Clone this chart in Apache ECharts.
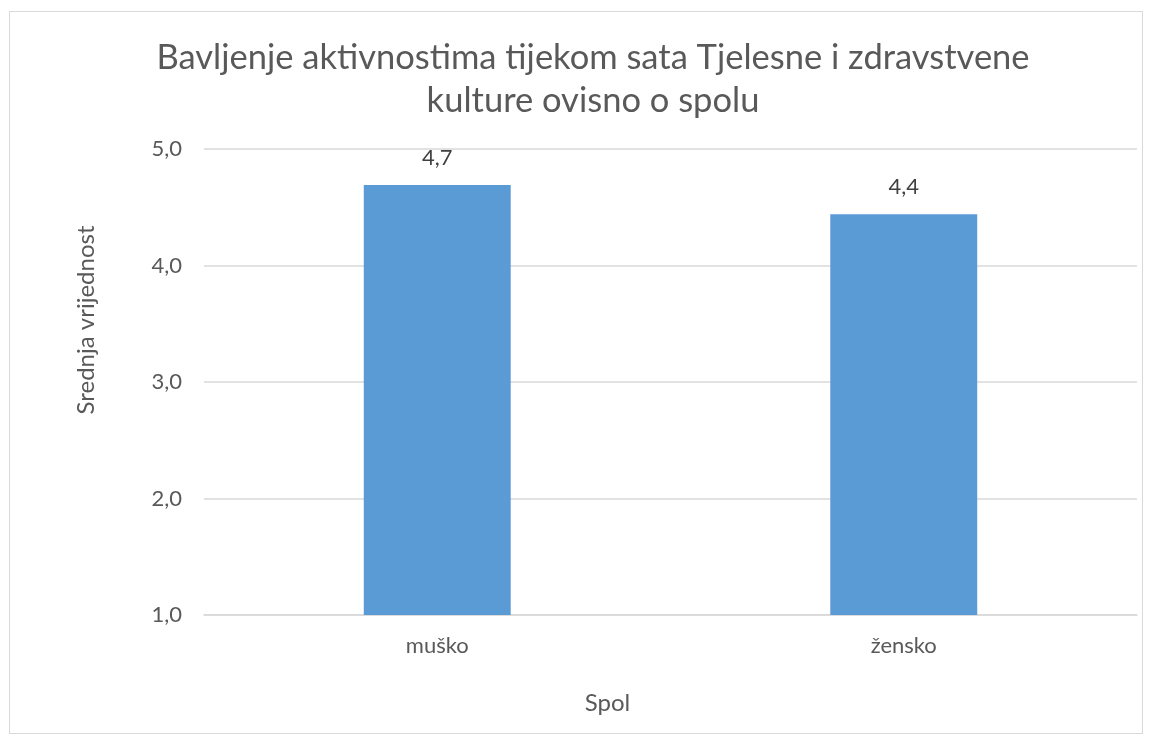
<!DOCTYPE html>
<html>
<head>
<meta charset="utf-8">
<script src="https://cdn.jsdelivr.net/npm/echarts@6/dist/echarts.min.js"></script>
<style>
  html, body { margin: 0; padding: 0; background: #fff; }
  #box { position: absolute; left: 9px; top: 11px; width: 1132px; height: 721px; border: 1px solid #d9d9d9; }
  #chart { width: 1151px; height: 744px; position: absolute; left: 0; top: 0; }
</style>
</head>
<body>
<div id="box"></div>
<div id="chart"></div>
<script>
var categories = ['muško', 'žensko'];
var values = [4.69, 4.44];
var yTicks = [1, 2, 3, 4, 5];

function fmt(v) {
  return v.toFixed(1).replace('.', ',');
}

var myChart = echarts.init(document.getElementById('chart'));
var font = 'Lato, sans-serif';
var option = {
  animation: false,
  title: {
    text: 'Bavljenje aktivnostima tijekom sata Tjelesne i zdravstvene\nkulture ovisno o spolu',
    left: 588,
    textAlign: 'center',
    top: 31,
    textStyle: { fontFamily: font, fontSize: 34.5, fontWeight: 'normal', color: '#595959', lineHeight: 43 }
  },
  grid: { left: 204, right: 14, top: 149, bottom: 129 },
  xAxis: {
    type: 'category',
    data: categories,
    name: 'Spol',
    nameLocation: 'middle',
    nameGap: 76,
    nameTextStyle: { fontFamily: font, fontSize: 24, color: '#595959', padding: [0, 126, 0, 0] },
    axisLine: { lineStyle: { color: '#d9d9d9', width: 1.5 } },
    axisTick: { show: false },
    axisLabel: { fontFamily: font, fontSize: 22, color: '#595959', margin: 20 }
  },
  yAxis: {
    type: 'value',
    min: yTicks[0],
    max: yTicks[yTicks.length - 1],
    interval: 1,
    name: 'Srednja vrijednost',
    nameLocation: 'middle',
    nameGap: 106,
    nameTextStyle: { fontFamily: font, fontSize: 24, color: '#595959', padding: [0, 0, 0, 124] },
    axisLine: { show: false },
    axisTick: { show: false },
    splitLine: { lineStyle: { color: '#d9d9d9', width: 1.5 } },
    axisLabel: { fontFamily: font, fontSize: 22, color: '#595959', margin: 22, formatter: fmt }
  },
  series: [{
    type: 'bar',
    data: values,
    barWidth: '31.5%',
    itemStyle: { color: '#5b9bd5' },
    label: {
      show: true,
      position: 'top',
      distance: 16,
      fontFamily: font,
      fontSize: 22,
      color: '#404040',
      formatter: function (p) { return fmt(p.value); }
    }
  }]
};
myChart.setOption(option);
</script>
</body>
</html>
